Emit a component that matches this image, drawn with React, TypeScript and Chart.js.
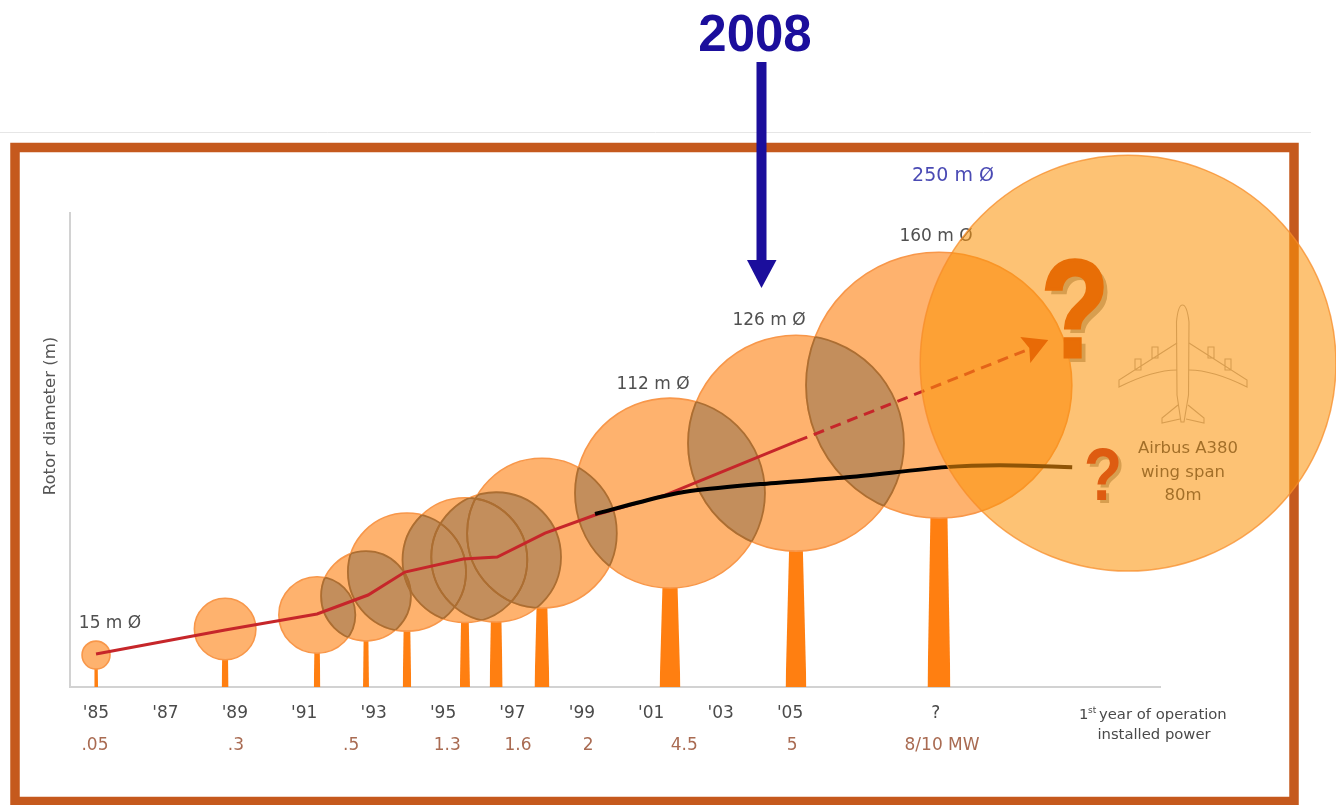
import React, { useEffect, useRef } from "react";
import { Chart, registerables } from "chart.js";

Chart.register(...registerables);

// ---- data ----
const tickYears = [1985, 1987, 1989, 1991, 1993, 1995, 1997, 1999, 2001, 2003, 2005, 2009.2];
const tickLabels = ["'85", "'87", "'89", "'91", "'93", "'95", "'97", "'99", "'01", "'03", "'05", "?"];
const powerYears = [1984.97, 1989.03, 1992.35, 1995.12, 1997.16, 1999.18, 2001.95, 2005.06, 2009.38];
const powerLabels = [".05", ".3", ".5", "1.3", "1.6", "2", "4.5", "5", "8/10 MW"];

const hubYears = [1985, 1988.72, 1991.37, 1992.78, 1993.96, 1995.63, 1996.53, 1997.85, 2001.54, 2005.17, 2009.29];
const hubHeights = [19.2, 34.9, 43.3, 54.7, 69.1, 76.3, 78.1, 92.5, 116.6, 146.6, 181.5];
const rotorDiameters = [16.8, 37, 46, 54, 71, 75, 78, 90, 114.2, 129.8, 159.8];
const towerBaseWidths = [0.115, 0.2, 0.19, 0.17, 0.245, 0.29, 0.375, 0.43, 0.6, 0.6, 0.66];
const towerTopWidths = [0.09, 0.14, 0.12, 0.11, 0.14, 0.16, 0.24, 0.2, 0.28, 0.24, 0.36];

const futureYear = [2014.74];
const futureHub = [194.7];
const futureDiameter = [250];

const trendYears = [1985, 1988.72, 1991.37, 1992.84, 1993.9, 1995.58, 1996.56, 1997.94, 1999.38, 2001.4, 2005.2];
const trendValues = [19.8, 34.3, 43.9, 55.3, 69.1, 76.9, 78.1, 92.5, 103.4, 115.4, 147.8];
const projectedYears = [2005.2, 2011.95];
const projectedValues = [147.8, 203.7];
const arrowTip = { x: 2012.44, y: 208.7 };
const offshoreYears = [1999.38, 2001.25, 2002.12, 2004.14, 2006.73, 2009.47, 2011.05, 2013.13];
const offshoreValues = [104, 114.2, 117.8, 122, 126.2, 132.2, 133.4, 132.2];

const SANS = '"DejaVu Sans", sans-serif';
const HEAVY = '"Liberation Sans", Arial, sans-serif';
const FRAME = "#C5591D";
const BLUE = "#1B0E9C";
// plot height 474 px over a y axis of 285 m: bubbles are sized in the axis' own metres
const PX_PER_METRE = 474 / 285;

function text(ctx: any, s: string, x: number, y: number, font: string, color: string, align: any = "center") {
  ctx.font = font;
  ctx.fillStyle = color;
  ctx.textAlign = align;
  ctx.textBaseline = "middle";
  ctx.fillText(s, x, y);
}

function drawPlane(ctx: any) {
  const half = (m: number) => {
    ctx.beginPath();
    // wing
    ctx.moveTo(1183 + m * 6, 343);
    ctx.lineTo(1183 + m * 64, 380);
    ctx.lineTo(1183 + m * 64, 387);
    ctx.quadraticCurveTo(1183 + m * 30, 370, 1183 + m * 6, 370);
    // tail
    ctx.moveTo(1183 + m * 5, 405);
    ctx.lineTo(1183 + m * 21, 418);
    ctx.lineTo(1183 + m * 21, 423);
    ctx.lineTo(1183 + m * 3, 419);
    // engines
    ctx.rect(1183 + m * 28 - 3, 347, 6, 11);
    ctx.rect(1183 + m * 45 - 3, 359, 6, 11);
    ctx.stroke();
  };
  ctx.save();
  ctx.strokeStyle = "#a9a9a9";
  ctx.lineWidth = 1.1;
  ctx.beginPath();
  ctx.moveTo(1176.5, 322);
  ctx.quadraticCurveTo(1178, 305, 1182.5, 305);
  ctx.quadraticCurveTo(1187, 305, 1189, 322);
  ctx.lineTo(1188.5, 395);
  ctx.lineTo(1184, 422);
  ctx.lineTo(1181, 422);
  ctx.lineTo(1177, 395);
  ctx.closePath();
  ctx.stroke();
  half(-1);
  half(1);
  ctx.restore();
}

function drawQuestion(ctx: any, x: number, y: number, size: number, sx: number, off: number, color: string, heavy: number) {
  ctx.save();
  ctx.textAlign = "center";
  ctx.textBaseline = "middle";
  ctx.font = `bold ${size}px ${HEAVY}`;
  ctx.translate(x, y);
  ctx.scale(sx, 1);
  ctx.fillStyle = "#a8abaa";
  ctx.fillText("?", off / sx, off);
  ctx.fillStyle = color;
  ctx.fillText("?", 0, 0);
  if (heavy > 0) {
    ctx.strokeStyle = color;
    ctx.lineWidth = heavy;
    ctx.strokeText("?", 0, 0);
  }
  ctx.restore();
}

const paperPlugin = {
  id: "paper",
  beforeDraw(chart: any) {
    const ctx = chart.ctx;
    ctx.save();
    ctx.fillStyle = "#ffffff";
    ctx.fillRect(0, 0, chart.width, chart.height);
    ctx.strokeStyle = "#e6e6e6";
    ctx.lineWidth = 1;
    ctx.beginPath();
    ctx.moveTo(0, 132.5);
    ctx.lineTo(1311, 132.5);
    ctx.stroke();
    ctx.strokeStyle = FRAME;
    ctx.lineWidth = 9.5;
    ctx.strokeRect(15, 147.5, 1279, 654);
    ctx.restore();
  },
  afterDatasetDraw(chart: any, args: any) {
    if (chart.data.datasets[args.index].label !== "Rotor") return;
    // overlapping rotors: flat brown lens with a darker rim
    const ctx = chart.ctx;
    const pts = args.meta.data.map((e: any) => ({ x: e.x, y: e.y, r: e.options.radius }));
    const circle = (c: any) => {
      ctx.beginPath();
      ctx.arc(c.x, c.y, c.r, 0, Math.PI * 2);
    };
    for (let i = 0; i < pts.length; i++) {
      for (let j = i + 1; j < pts.length; j++) {
        const a = pts[i], b = pts[j];
        if (Math.hypot(a.x - b.x, a.y - b.y) >= a.r + b.r) continue;
        ctx.save();
        circle(a);
        ctx.clip();
        circle(b);
        ctx.clip();
        ctx.fillStyle = "#C38E5C";
        ctx.fillRect(0, 0, chart.width, chart.height);
        ctx.restore();
      }
    }
    for (let i = 0; i < pts.length; i++) {
      for (let j = 0; j < pts.length; j++) {
        if (i === j) continue;
        const a = pts[i], b = pts[j];
        if (Math.hypot(a.x - b.x, a.y - b.y) >= a.r + b.r) continue;
        ctx.save();
        circle(a);
        ctx.clip();
        circle(b);
        ctx.strokeStyle = "#AC6E32";
        ctx.lineWidth = 1.8;
        ctx.stroke();
        ctx.restore();
      }
    }
  },
  beforeDatasetDraw(chart: any, args: any) {
    if (chart.data.datasets[args.index].label !== "Future") return;
    // everything below sits under the translucent 250 m disc
    const ctx = chart.ctx;
    const xs = chart.scales.x;
    const ys = chart.scales.y;
    const lab = `17px ${SANS}`;
    const grey = "#505050";
    text(ctx, "15 m Ø", 110, 624, lab, grey);
    text(ctx, "112 m Ø", 653, 385, lab, grey);
    text(ctx, "126 m Ø", 769, 321, lab, grey);
    text(ctx, "160 m Ø", 936, 237, lab, grey);
    text(ctx, "250 m Ø", 953, 176, `19px ${SANS}`, "#4A4AB4");

    powerLabels.forEach((s, i) => {
      text(ctx, s, xs.getPixelForValue(powerYears[i]), 746, `17px ${SANS}`, "#A96B52");
    });

    ctx.save();
    ctx.translate(51, 416);
    ctx.rotate(-Math.PI / 2);
    text(ctx, "Rotor diameter (m)", 0, 0, `16.5px ${SANS}`, "#555555");
    ctx.restore();

    const small = `14.8px ${SANS}`;
    text(ctx, "1", 1079, 715, small, "#4a4a4a", "left");
    text(ctx, "st", 1088, 711, `9px ${SANS}`, "#4a4a4a", "left");
    text(ctx, "year of operation", 1099, 715, small, "#4a4a4a", "left");
    text(ctx, "installed power", 1154, 735, small, "#4a4a4a");

    // arrow head of the projected trend
    const tipX = xs.getPixelForValue(arrowTip.x);
    const tipY = ys.getPixelForValue(arrowTip.y);
    ctx.beginPath();
    ctx.moveTo(tipX, tipY);
    ctx.lineTo(tipX - 28, tipY - 3);
    ctx.lineTo(tipX - 19, tipY + 8);
    ctx.lineTo(tipX - 18, tipY + 23);
    ctx.closePath();
    ctx.fillStyle = "#CF3400";
    ctx.fill();

    drawQuestion(ctx, 1075, 319, 139, 0.8, 5, "#CF3C00", 3);
    drawQuestion(ctx, 1103, 480, 74, 0.85, 3, "#B8141A", 0);
    drawPlane(ctx);

    const air = `16.5px ${SANS}`;
    text(ctx, "Airbus A380", 1188, 449, air, "#2f3f50");
    text(ctx, "wing span", 1183, 473, air, "#2f3f50");
    text(ctx, "80m", 1183, 496, air, "#2f3f50");
  },
  afterDraw(chart: any) {
    const ctx = chart.ctx;
    ctx.save();
    text(ctx, "2008", 755, 37, `bold 51px ${HEAVY}`, BLUE);
    ctx.fillStyle = BLUE;
    ctx.fillRect(756.5, 62, 10, 199);
    ctx.beginPath();
    ctx.moveTo(747, 260);
    ctx.lineTo(776.5, 260);
    ctx.lineTo(761.5, 288);
    ctx.closePath();
    ctx.fill();
    ctx.restore();
  },
};

const toPoints = (xs: number[], ys: number[]) => xs.map((x, i) => ({ x, y: ys[i] }));
const toBubbles = (xs: number[], ys: number[], ds: number[]) =>
  xs.map((x, i) => ({ x, y: ys[i], r: (ds[i] / 2) * PX_PER_METRE }));

const towerDatasets = hubYears.map((year, i) => ({
  type: "line",
  label: "Tower",
  order: 5,
  data: [
    { x: year - towerBaseWidths[i] / 2, y: 0 },
    { x: year - towerTopWidths[i] / 2, y: hubHeights[i] },
    { x: year + towerTopWidths[i] / 2, y: hubHeights[i] },
    { x: year + towerBaseWidths[i] / 2, y: 0 },
  ],
  borderWidth: 0,
  pointRadius: 0,
  backgroundColor: "#FF7F11",
  fill: "origin",
}));

export default function App() {
  const ref = useRef<HTMLCanvasElement>(null);
  useEffect(() => {
    document.body.style.margin = "0";
    const chart = new Chart(ref.current as HTMLCanvasElement, {
      type: "bubble",
      plugins: [paperPlugin],
      data: {
        datasets: [
          {
            type: "bubble",
            label: "Future",
            order: 0,
            clip: false,
            data: toBubbles(futureYear, futureHub, futureDiameter),
            backgroundColor: "rgba(251,147,10,0.57)",
            borderColor: "rgba(247,140,40,0.75)",
            borderWidth: 1.5,
          },
          {
            type: "line",
            label: "Offshore",
            order: 1,
            clip: false,
            data: toPoints(offshoreYears, offshoreValues),
            borderColor: "#000000",
            borderWidth: 4,
            pointRadius: 0,
            tension: 0.25,
            fill: false,
          },
          {
            type: "line",
            label: "Trend",
            order: 2,
            data: toPoints(trendYears, trendValues),
            borderColor: "#C6262A",
            borderWidth: 3,
            pointRadius: 0,
            tension: 0,
            fill: false,
          },
          {
            type: "line",
            label: "Projected",
            order: 3,
            data: toPoints(projectedYears, projectedValues),
            borderColor: "#C6262A",
            borderWidth: 3,
            borderDash: [11, 7],
            pointRadius: 0,
            fill: false,
          },
          {
            type: "bubble",
            label: "Rotor",
            order: 4,
            clip: false,
            data: toBubbles(hubYears, hubHeights, rotorDiameters),
            backgroundColor: "#FEB26E",
            borderColor: "#F8974A",
            borderWidth: 1.6,
          },
          ...towerDatasets,
        ] as any,
      },
      options: {
        responsive: false,
        animation: false,
        devicePixelRatio: 1,
        events: [],
        layout: { autoPadding: false, padding: { top: 213, right: 176, left: 0, bottom: 0 } },
        plugins: { legend: { display: false }, tooltip: { enabled: false } },
        scales: {
          x: {
            type: "linear",
            min: 1984.25,
            max: 2015.66,
            border: { display: true, color: "#d2d2d2", width: 2 },
            grid: { display: false, drawTicks: false },
            afterFit: (s: any) => { s.height = 118; },
            afterBuildTicks: (s: any) => { s.ticks = tickYears.map((value) => ({ value })); },
            ticks: {
              autoSkip: false,
              maxRotation: 0,
              padding: 16,
              color: "#4a4a4a",
              font: { size: 17, family: SANS },
              callback: (_v: any, i: number) => tickLabels[i],
            },
          },
          y: {
            type: "linear",
            min: 0,
            max: 285,
            border: { display: true, color: "#d2d2d2", width: 2 },
            grid: { display: false, drawTicks: false },
            ticks: { display: false },
            afterFit: (s: any) => { s.width = 70; },
          },
        },
      } as any,
    });
    return () => chart.destroy();
  }, []);
  return (
    <div style={{ position: "absolute", left: 0, top: 0, width: 1336, height: 805, overflow: "hidden" }}>
      <canvas ref={ref} width={1336} height={805} style={{ display: "block", filter: "blur(0.6px)" }} />
    </div>
  );
}
